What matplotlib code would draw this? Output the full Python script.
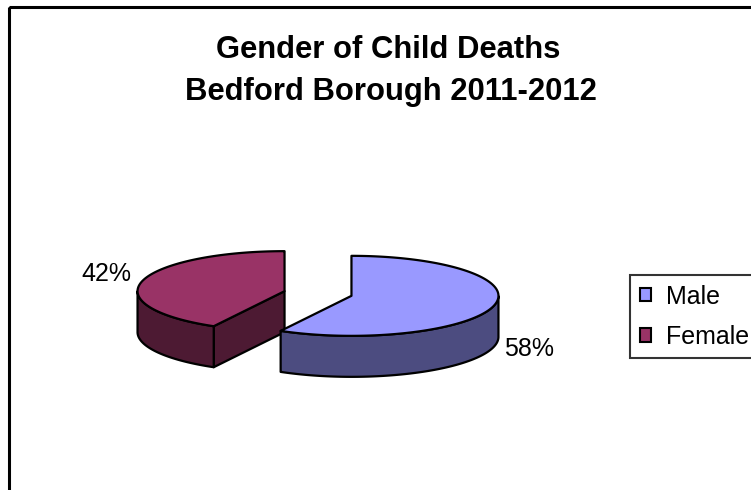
import numpy as np
import matplotlib.pyplot as plt
from matplotlib.patches import Polygon, Patch, Rectangle

plt.rcParams['font.family'] = ['Liberation Sans', 'DejaVu Sans']

title_lines = ["Gender of Child Deaths", "Bedford Borough 2011-2012"]
labels = ["Male", "Female"]
shares = [58, 42]
top_colors = ["#9999FF", "#993366"]
side_colors = ["#4C4C80", "#4D1A33"]

W, H = 751, 490
cx, cy = 318, 293.5      # pie centre, pixels
rx, ry = 147, 40         # ellipse radii of the tilted pie
depth = 41               # thickness of the 3d pie
explode = 0.235
start = 90


def ell(c, t, dz=0.0):
    t = np.radians(t)
    return np.column_stack([c[0] + rx * np.cos(t), c[1] - ry * np.sin(t) + dz])


fig = plt.figure(figsize=(W / 100, H / 100), dpi=100)
ax = fig.add_axes([0, 0, 1, 1])
ax.set_xlim(0, W)
ax.set_ylim(H, 0)
ax.axis('off')

# chart area border (only left / top show in the crop)
ax.add_patch(Rectangle((9, 7), W + 20, H + 20, fill=False, ec='black', lw=2.2))

# slice geometry
slices = []
hi = start
for i, s in enumerate(shares):
    lo = hi - s * 3.6
    mid = np.radians((lo + hi) / 2)
    c = (cx + explode * rx * np.cos(mid), cy - explode * ry * np.sin(mid))
    slices.append(dict(i=i, lo=lo, hi=hi, mid=mid, c=c))
    hi = lo

# draw back slices first
for sl in sorted(slices, key=lambda d: d['c'][1]):
    i, lo, hi, c = sl['i'], sl['lo'], sl['hi'], sl['c']
    side = side_colors[i]

    # cut faces facing the viewer
    for t, vis in ((lo, np.cos(np.radians(lo)) > 1e-6), (hi, np.cos(np.radians(hi)) < -1e-6)):
        if vis:
            p = ell(c, [t])[0]
            quad = [c, p, (p[0], p[1] + depth), (c[0], c[1] + depth)]
            ax.add_patch(Polygon(quad, closed=True, fc=side, ec='black', lw=1.6, joinstyle='round'))

    # front part of the outer wall
    ts = np.linspace(lo, hi, 600)
    front = np.sin(np.radians(ts)) < 0
    runs = np.split(ts, np.where(np.diff(front.astype(int)) != 0)[0] + 1)
    for run in runs:
        if len(run) < 2 or np.sin(np.radians(run.mean())) >= 0:
            continue
        top = ell(c, run)
        bot = ell(c, run[::-1], depth)
        ax.add_patch(Polygon(np.vstack([top, bot]), closed=True, fc=side, ec='black',
                             lw=1.6, joinstyle='round'))

    # top face
    face = np.vstack([[c], ell(c, ts)])
    ax.add_patch(Polygon(face, closed=True, fc=top_colors[i], ec='black', lw=1.6,
                         joinstyle='round'))

    # percentage label
    m = sl['mid']
    lx = c[0] + 1.25 * rx * np.cos(m)
    ly = c[1] - 1.25 * ry * np.sin(m) + (depth if np.sin(m) < 0 else -5)
    ax.text(lx, ly, f"{shares[i]}%", fontsize=18, ha='center', va='center')

# title
ax.text(388, 58, title_lines[0], fontsize=22.3, fontweight='bold', ha='center', va='baseline')
ax.text(391, 100, title_lines[1], fontsize=22.3, fontweight='bold', ha='center', va='baseline')

handles = [Patch(fc=top_colors[k], ec='black', lw=1.5) for k in range(len(labels))]
leg = fig.legend(handles, labels, loc='upper left', bbox_to_anchor=(630 / W, 1 - 275 / H),
                 borderaxespad=0, fontsize=18, frameon=True, fancybox=False,
                 handlelength=0.45, handleheight=0.45, handletextpad=0.6,
                 borderpad=0.38, labelspacing=0.66)
leg.get_frame().set_edgecolor('black')
leg.get_frame().set_linewidth(1.5)

fig.savefig('out.png', dpi=100)
